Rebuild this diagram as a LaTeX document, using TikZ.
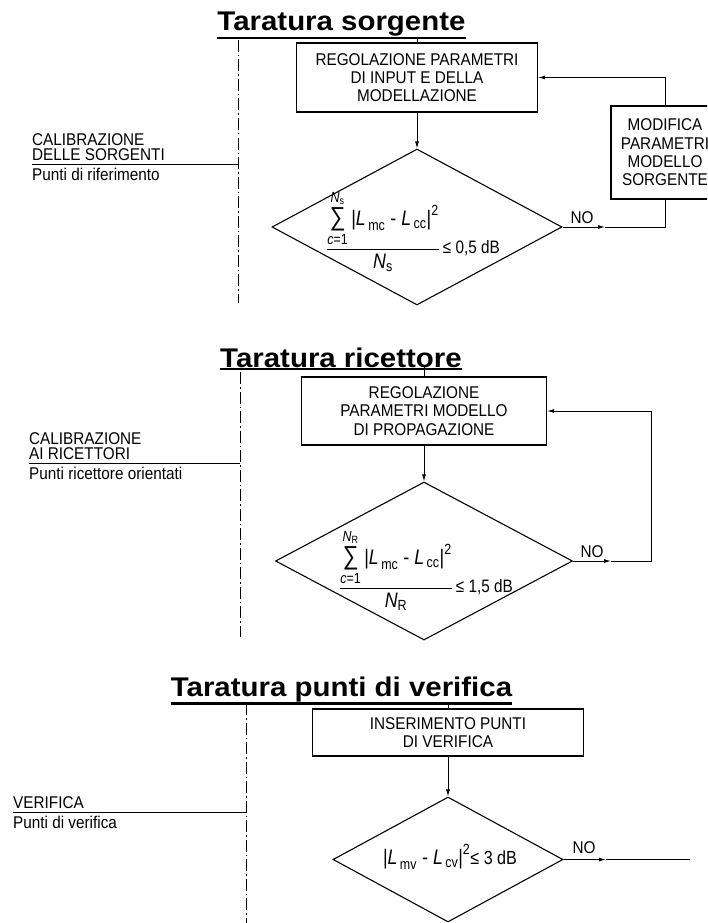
\documentclass[tikz,border=0pt]{standalone}
\usepackage{amsmath}
\usepackage{fontspec}
\setmainfont{Liberation Sans}
\newfontfamily\titolofont[FakeStretch=1.09]{Liberation Sans}
\newfontfamily\testofont[FakeStretch=0.9]{Liberation Sans}
\newfontfamily\formulafont[FakeStretch=0.85]{Liberation Sans}
\newcommand\sommatoria{\text{\fontsize{26}{26}\selectfont ∑}}
\usetikzlibrary{shapes.geometric,arrows.meta,positioning}

\begin{document}
\begin{tikzpicture}[x=1pt,y=-1pt,
  titolo/.style={inner sep=0pt,font=\titolofont\bfseries\fontsize{27}{30}\selectfont},
  riquadro/.style={shape=rectangle,draw,line width=1.1pt,align=center,inner sep=0pt,font=\testofont\fontsize{17}{18.3}\selectfont},
  rombo/.style={shape=diamond,draw,line width=1.1pt,inner sep=0pt},
  formula/.style={inner sep=0pt,font=\formulafont\fontsize{21}{24}\selectfont},
  testo/.style={inner sep=0pt,font=\testofont\fontsize{17}{18}\selectfont},
  etichetta/.style={inner sep=0pt,align=left,font=\testofont\fontsize{17}{15}\selectfont},
  asse/.style={line width=0.9pt,dash pattern=on 12pt off 3pt on 1.5pt off 3pt},
  linea/.style={line width=0.9pt},
  freccia/.style={line width=0.9pt,-{Latex[length=7pt,width=4pt]}},
  sottolineato/.style={line width=2.5pt}]
\path[use as bounding box] (0,0) rectangle (707,923);
\clip (0,0) rectangle (707,923);

\node[titolo,anchor=base] (t1) at (341.5,30.7) {Taratura sorgente};
\draw[sottolineato] ([yshift=-1.5pt]t1.south west) -- ([yshift=-1.5pt]t1.south east);
\node[riquadro,minimum width=241pt,minimum height=69pt] (b1) at (417,77.5) {REGOLAZIONE PARAMETRI\\DI INPUT E DELLA\\MODELLAZIONE};
\node[riquadro,minimum width=108pt,minimum height=93pt] (m1) at (665,152.5) {MODIFICA\\PARAMETRI\\MODELLO\\SORGENTE};
\node[rombo,minimum width=290pt,minimum height=156pt] (d1) at (417,227) {};
\node[formula] (f1) at (413,231) {$\dfrac{\underset{\text{\itshape c\upshape =1}}{\overset{\text{\rule[-2pt]{0pt}{2pt}\itshape N}_{\text{s}}}{\sommatoria}}\,\text{|\itshape L}_{\,\text{mc}}\text{ - \itshape L}_{\,\text{cc}}\text{|}^{\text{2}}}{\text{\itshape N}_{\text{s}}}$\fontsize{18}{22}\selectfont\,\raisebox{1pt}{≤ 0,5 dB}};
\node[testo] (no1) at (582,218) {NO};
\coordinate (a1) at (238,40);
\coordinate (a1e) at (238,303);
\coordinate (r1) at (32,164);
\coordinate (n1) at (605,227);
\draw[asse] (a1) -- (a1e);
\draw[linea] (r1) -- (r1 -| a1);
\node[etichetta,above right=3pt and 0pt of r1] (c1) {CALIBRAZIONE\\DELLE SORGENTI};
\node[etichetta,below right=4pt and 0pt of r1] (p1) {Punti di riferimento};
\draw[linea] (b1.north) -- (b1.north |- t1.south);
\draw[freccia] (b1.south) -- (d1.north);
\draw[freccia] (d1.east) -- (n1);
\draw[linea] (n1) -| (m1.south);
\draw[freccia] (m1.north) |- (b1.east);

\node[titolo,anchor=base] (t2) at (341,367) {Taratura ricettore};
\draw[sottolineato] ([yshift=-1.5pt]t2.south west) -- ([yshift=-1.5pt]t2.south east);
\node[riquadro,minimum width=245pt,minimum height=68pt] (b2) at (424,411) {REGOLAZIONE\\PARAMETRI MODELLO\\DI PROPAGAZIONE};
\node[rombo,minimum width=297pt,minimum height=158pt] (d2) at (424,561) {};
\node[formula] (f2) at (426,570) {$\dfrac{\underset{\text{\itshape c\upshape =1}}{\overset{\text{\rule[-2pt]{0pt}{2pt}\itshape N}_{\text{R}}}{\sommatoria}}\,\text{|\itshape L}_{\,\text{mc}}\text{ - \itshape L}_{\,\text{cc}}\text{|}^{\text{2}}}{\text{\itshape N}_{\text{R}}}$\fontsize{18}{22}\selectfont\,\raisebox{1pt}{≤ 1,5 dB}};
\node[testo] (no2) at (592,552) {NO};
\coordinate (a2) at (240,372);
\coordinate (a2e) at (240,637);
\coordinate (r2) at (29,463);
\coordinate (n2) at (611,561);
\coordinate (g2) at (651,561);
\draw[asse] (a2) -- (a2e);
\draw[linea] (r2) -- (r2 -| a2);
\node[etichetta,above right=3pt and 0pt of r2] (c2) {CALIBRAZIONE\\AI RICETTORI};
\node[etichetta,below right=4pt and 0pt of r2] (p2) {Punti ricettore orientati};
\draw[linea] (b2.north) -- (b2.north |- t2.south);
\draw[freccia] (b2.south) -- (d2.north);
\draw[freccia] (d2.east) -- (n2);
\draw[freccia] (n2) -- (g2) |- (b2.east);

\node[titolo,anchor=base] (t3) at (341.5,696) {Taratura punti di verifica};
\draw[sottolineato] ([yshift=-1.5pt]t3.south west) -- ([yshift=-1.5pt]t3.south east);
\node[riquadro,minimum width=271pt,minimum height=47pt] (b3) at (448,732.5) {INSERIMENTO PUNTI\\DI VERIFICA};
\node[rombo,minimum width=230pt,minimum height=125pt] (d3) at (448,859.5) {};
\node[formula] (f3) at (450,857) {$\text{|\itshape L}_{\,\text{mv}}\text{ - \itshape L}_{\,\text{cv}}\text{|}^{\text{2}}$\fontsize{19}{22}\selectfont ≤ 3 dB};
\node[testo] (no3) at (584,848) {NO};
\coordinate (a3) at (246,703);
\coordinate (a3e) at (246,923);
\coordinate (r3) at (13,812);
\coordinate (n3) at (606,859.5);
\coordinate (e3) at (690,859.5);
\draw[asse] (a3) -- (a3e);
\draw[linea] (r3) -- (r3 -| a3);
\node[etichetta,above right=3pt and 0pt of r3] (c3) {VERIFICA};
\node[etichetta,below right=4pt and 0pt of r3] (p3) {Punti di verifica};
\draw[linea] (b3.north) -- (b3.north |- t3.south);
\draw[freccia] (b3.south) -- (d3.north);
\draw[freccia] (d3.east) -- (n3);
\draw[linea] (n3) -- (e3);
\end{tikzpicture}
\end{document}
